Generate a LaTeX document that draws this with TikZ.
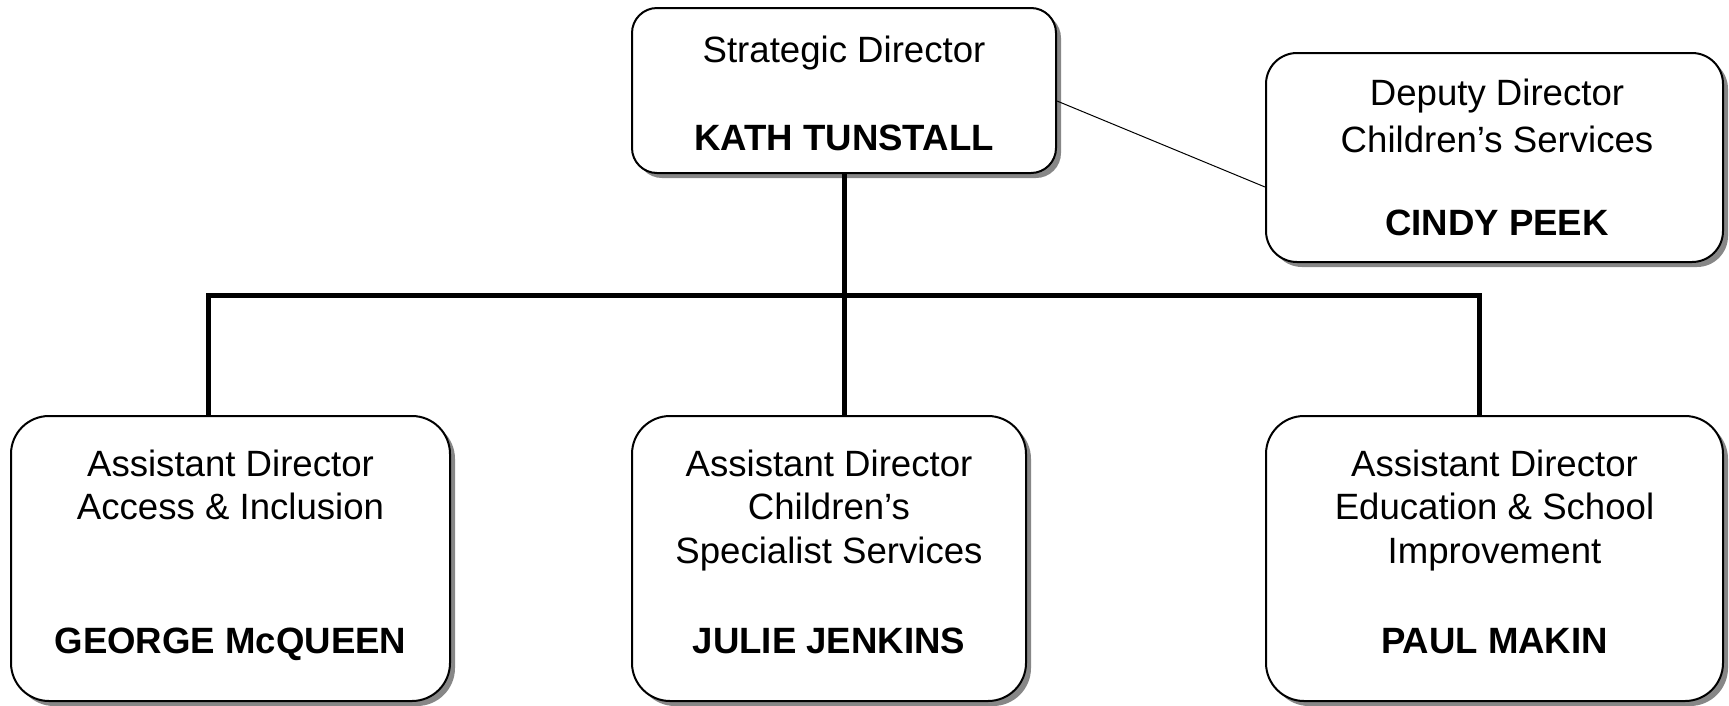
\documentclass[tikz,border=0pt]{standalone}
\usepackage{fontspec}
\setmainfont{Liberation Sans}
\usetikzlibrary{shadows,calc}
\begin{document}
\begin{tikzpicture}[x=1pt,y=-1pt,
  orgbox/.style={draw=black, line width=2pt, fill=white, rounded corners=#1, inner sep=0pt,
    drop shadow={shadow xshift=5pt, shadow yshift=-5pt, fill=black!47, opacity=1}},
  lbl/.style={anchor=base, inner sep=0pt, font=\fontsize{36.6}{44}\selectfont},
  lblb/.style={anchor=base, inner sep=0pt, font=\fontsize{36.6}{44}\selectfont\bfseries},
  link/.style={line width=5pt},
  thinlink/.style={line width=1pt}]
\useasboundingbox (0,0) rectangle (1729,705);
% boxes
\node[orgbox=25pt, minimum width=424pt, minimum height=165pt] (top) at (844,90.5) {};
\node[orgbox=31pt, minimum width=457pt, minimum height=209pt] (deputy) at (1494.5,157.5) {};
\node[orgbox=38pt, minimum width=439pt, minimum height=285pt] (left) at (230.5,558.5) {};
\node[orgbox=38pt, minimum width=394pt, minimum height=285pt] (mid) at (829,558.5) {};
\node[orgbox=38pt, minimum width=457pt, minimum height=285pt] (right) at (1494.5,558.5) {};
% texts
\node[lbl] (t1) at (844,62) {Strategic Director};
\node[lblb] (t2) at (844,150) {KATH TUNSTALL};
\node[lbl] (d1) at (1497,105) {Deputy Director};
\node[lbl] (d2) at (1497,152) {Children’s Services};
\node[lblb] (d3) at (1497,235) {CINDY PEEK};
\node[lbl] (l1) at (230.5,476) {Assistant Director};
\node[lbl] (l2) at (230.5,519.5) {Access \& Inclusion};
\node[lblb] (l3) at (230.5,653) {GEORGE McQUEEN};
\node[lbl] (m1) at (829,476) {Assistant Director};
\node[lbl] (m2) at (829,519.5) {Children’s};
\node[lbl] (m3) at (829,563) {Specialist Services};
\node[lblb] (m4) at (829,653) {JULIE JENKINS};
\node[lbl] (r1) at (1494.5,476) {Assistant Director};
\node[lbl] (r2) at (1494.5,519.5) {Education \& School};
\node[lbl] (r3) at (1494.5,563) {Improvement};
\node[lblb] (r4) at (1494.5,653) {PAUL MAKIN};
% connectors
\coordinate (busL) at (208,295);
\coordinate (busR) at (1479,295);
\draw[link] (top.south) -- (top.south |- mid.north);
\draw[link] (busL |- left.north) -- (busL) -- (busR) -- (busR |- right.north);
\draw[thinlink] ([yshift=-10.5pt]top.east) -- ([yshift=-29.5pt]deputy.west);
\end{tikzpicture}
\end{document}
